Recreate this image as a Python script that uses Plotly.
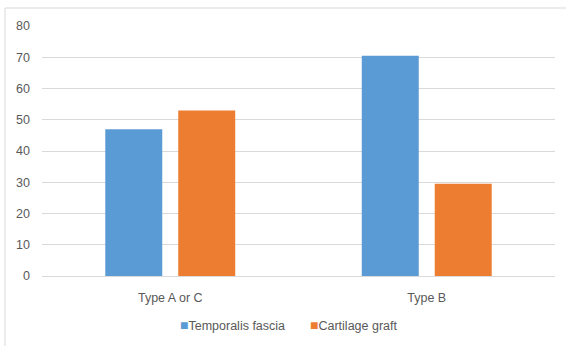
import plotly.graph_objects as go

categories = ["Type A or C", "Type B"]
temporalis = [47, 70.5]
cartilage = [53, 29.5]
series_names = ["Temporalis fascia", "Cartilage graft"]
series_colors = ["#5B9BD5", "#ED7D31"]
y_ticks = [0, 10, 20, 30, 40, 50, 60, 70, 80]

FONT = "Liberation Sans, Arial, sans-serif"
TXT = "#595959"

fig = go.Figure()
fig.add_trace(go.Bar(name=series_names[0], x=categories, y=temporalis,
                     marker=dict(color=series_colors[0], line=dict(width=0))))
fig.add_trace(go.Bar(name=series_names[1], x=categories, y=cartilage,
                     marker=dict(color=series_colors[1], line=dict(width=0))))

# legend drawn as annotations (Excel-style compact legend)
legend_x = [178, 308]
for name, color, lx in zip(series_names, series_colors, legend_x):
    fig.add_annotation(
        xref="paper", yref="paper", x=(lx - 42) / 513, y=(276 - 325) / 250,
        xanchor="left", yanchor="middle", showarrow=False,
        text=f"<span style='color:{color};font-size:14px'>■</span>{name}",
        font=dict(family=FONT, size=12.5, color=TXT),
    )

fig.update_layout(
    width=566, height=346,
    margin=dict(l=42, r=11, t=26, b=70),
    paper_bgcolor="white", plot_bgcolor="white",
    barmode="group", bargap=0.431, bargroupgap=0.219,
    font=dict(family=FONT, size=12.5, color=TXT),
    showlegend=False,
    xaxis=dict(showgrid=False, showline=True, linecolor="#D9D9D9", linewidth=1,
               ticks="", ticklabelstandoff=10, tickfont=dict(size=12.5, color=TXT)),
    yaxis=dict(range=[0, 80], tickvals=y_ticks, showgrid=True, gridcolor="#D9D9D9",
               gridwidth=1, zeroline=False, showline=False, ticks="",
               ticklabelstandoff=11, tickfont=dict(size=12.5, color=TXT)),
    shapes=[dict(type="rect", xref="paper", yref="paper",
                 x0=-37/513, x1=(575-42)/513, y0=-(360-276)/250, y1=1+18/250,
                 line=dict(color="#D9D9D9", width=1), fillcolor="rgba(0,0,0,0)",
                 layer="below")],
)

fig.write_html("out.html", config={"displayModeBar": False},
               post_script="document.body.style.margin='0';")
